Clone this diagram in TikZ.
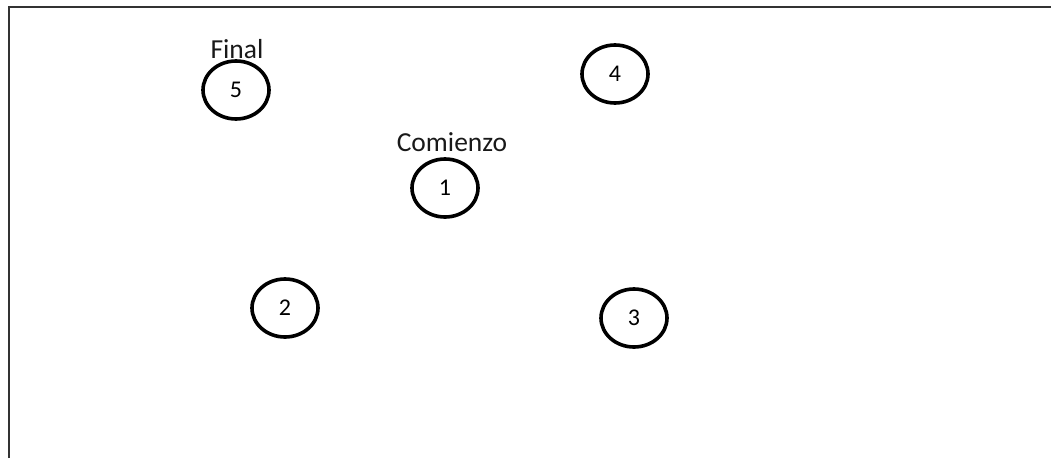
\documentclass[tikz,border=0pt]{standalone}
\usepackage{fontspec}
\setmainfont{Carlito}
\usetikzlibrary{shapes.geometric}
\begin{document}
\begin{tikzpicture}[x=1pt,y=-1pt,
  state/.style={draw, line width=3.6pt, ellipse, inner sep=0pt,
    minimum width=66pt, minimum height=58pt,
    font=\fontsize{24}{28}\selectfont},
  tag/.style={inner sep=0pt, font=\fontsize{27.5}{32}\selectfont, text=black!90}]
\useasboundingbox (0,0) rectangle (1051,458);
% frame
\draw[line width=2.4pt, black!80] (9,458) -- (9,7) -- (1051,7);
% states
\node[state] (s5) at (236,90) {5};
\node[state] (s4) at (615,74) {4};
\node[state] (s1) at (445,188) {1};
\node[state] (s2) at (285,308) {2};
\node[state] (s3) at (634,318) {3};
% labels
\node[tag] (lfinal) at (237,49) {Final};
\node[tag] (lstart) at (452,142) {Comienzo};
\end{tikzpicture}
\end{document}
